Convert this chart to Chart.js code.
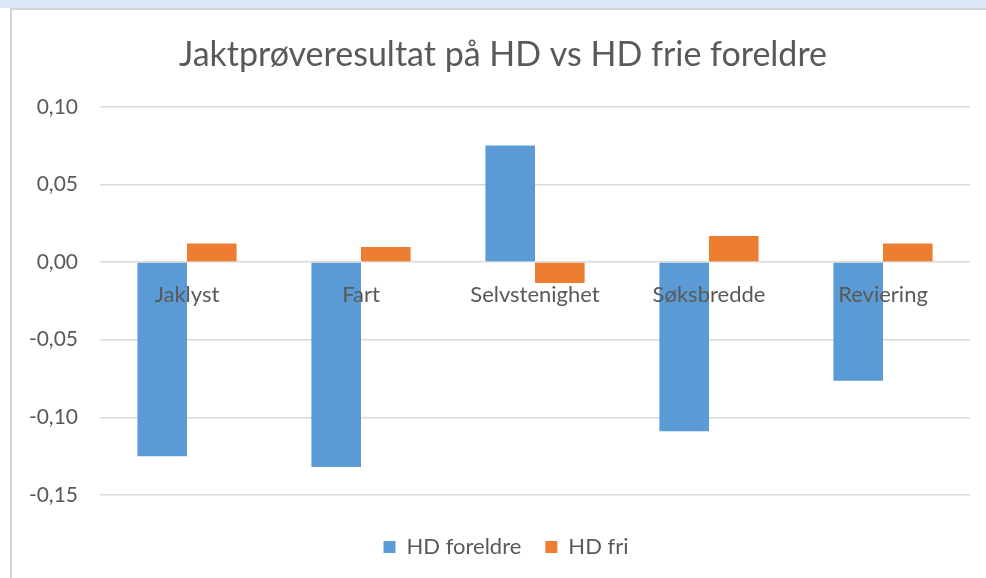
<!DOCTYPE html>
<html><head><meta charset="utf-8">
<script src="https://cdn.jsdelivr.net/npm/chart.js@4/dist/chart.umd.min.js"></script>
<style>
html,body{margin:0;padding:0;background:#fff;overflow:hidden;}
#top{position:absolute;left:0;top:0;width:986px;height:8px;background:#dce9f6;}
#frame{position:absolute;left:10px;top:8px;width:976px;height:570px;border-left:2px solid #d4d4d4;border-top:2px solid #d4d4d4;box-sizing:border-box;background:#fff;}
#wrap{position:absolute;left:12px;top:10px;width:974px;height:568px;}
</style></head>
<body>
<div id="top"></div><div id="frame"></div>
<div id="wrap"><canvas id="c"></canvas></div>
<script>
const categories = ["Jaklyst","Fart","Selvstenighet","Søksbredde","Reviering"];
const hdForeldre = [-0.125,-0.132,0.075,-0.109,-0.0765];
const hdFri = [0.012,0.0097,-0.0135,0.0168,0.012];
const yTicks = [-0.15,-0.10,-0.05,0.00,0.05,0.10];

const FONT = "Lato, 'Open Sans', sans-serif";
const shiftBlocks = {
  id:'shiftBlocks',
  afterLayout(chart){
    if (chart.titleBlock){ chart.titleBlock.left += 7; chart.titleBlock.right += 7; }
    if (chart.legend){ chart.legend.left += 10; chart.legend.right += 10; }
  }
};
new Chart(document.getElementById('c'), {
  type: 'bar',
  data: {
    labels: categories,
    datasets: [
      {label:'HD foreldre', data: hdForeldre, backgroundColor:'#5B9BD5', borderWidth:0},
      {label:'HD fri', data: hdFri, backgroundColor:'#ED7D31', borderWidth:0}
    ]
  },
  plugins:[shiftBlocks],
  options: {
    responsive:true, maintainAspectRatio:false, animation:false,
    layout:{padding:{left:10,right:16,top:14,bottom:10}},
    datasets:{bar:{categoryPercentage:0.57,barPercentage:1.0}},
    plugins:{
      title:{display:true,text:'Jaktprøveresultat på HD vs HD frie foreldre',color:'#595959',
        font:{family:FONT,size:34,weight:'normal'},padding:{top:11,bottom:31}},
      legend:{position:'bottom',labels:{color:'#595959',font:{family:FONT,size:22},boxWidth:12,boxHeight:12,padding:24}},
      tooltip:{enabled:false}
    },
    scales:{
      x:{position:{y:0},grid:{display:false},border:{display:false},
        ticks:{z:1,color:'#595959',font:{family:FONT,size:22},padding:12}},
      xSpace:{type:'category',position:'bottom',grid:{display:false},border:{display:false},
        ticks:{display:false},afterFit:(s)=>{s.height=17;}},
      y:{min:-0.15,max:0.10,
        afterBuildTicks:(s)=>{s.ticks=yTicks.map(v=>({value:v}));},
        afterFit:(s)=>{s.width=78;},
        grid:{color:'#d9d9d9',lineWidth:1.5,drawTicks:false},border:{display:false},
        ticks:{color:'#595959',font:{family:FONT,size:21},padding:22,
          callback:(v)=>v.toFixed(2).replace('.',',')}}
    }
  }
});
</script>
</body></html>
